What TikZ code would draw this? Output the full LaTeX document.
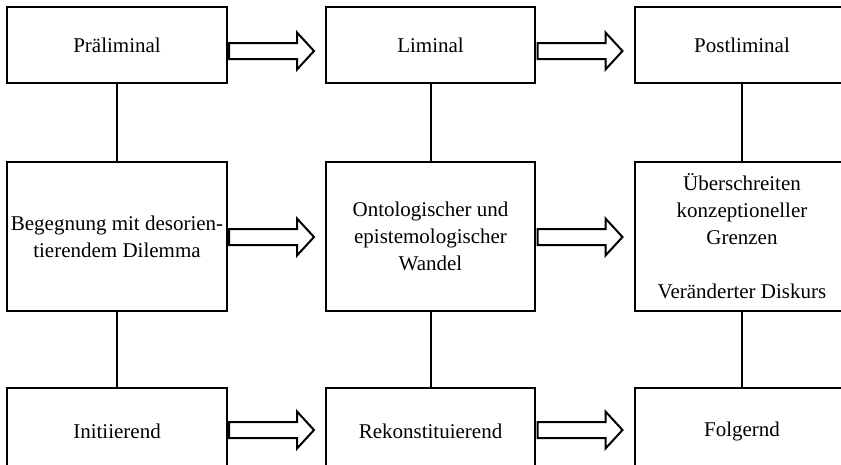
\documentclass[tikz,border=0pt]{standalone}
\usepackage{fontspec}
\setmainfont{Liberation Serif}
\usetikzlibrary{calc}
\begin{document}
\begin{tikzpicture}[x=1pt,y=-1pt,
  box/.style={draw=black,line width=2pt,fill=white,inner sep=0pt,align=center,
    font=\fontsize{21}{27}\selectfont},
  link/.style={draw=black,line width=2pt},
  arrowshape/.style={draw=black,line width=2pt,fill=white,line join=miter},
  blockarrow/.pic={\path[arrowshape] (0,-8) -- (68,-8) -- (68,-18.5) -- (85,0) -- (68,18.5) -- (68,8) -- (0,8) -- cycle;}]
\useasboundingbox (0,0) rectangle (841,464);
\begin{scope}
\clip (0,0) rectangle (841,464);
% row 1
\node[box,minimum width=220,minimum height=76] (pre) at (117,45) {Präliminal};
\node[box,minimum width=209,minimum height=76] (lim) at (430.5,45) {Liminal};
\node[box,minimum width=214,minimum height=76] (post) at (742,45) {Postliminal};
% row 2
\node[box,minimum width=220,minimum height=149] (beg) at (117,236.5) {Begegnung mit desorien-\\tierendem Dilemma};
\node[box,minimum width=209,minimum height=149] (ont) at (430.5,236.5) {Ontologischer und\\epistemologischer\\Wandel};
\node[box,minimum width=214,minimum height=149] (ueb) at (742,236.5) {Überschreiten\\konzeptioneller\\Grenzen\\[27pt]Veränderter Diskurs};
% row 3
\node[box,minimum width=220,minimum height=86] (ini) at (117,431) {Initiierend};
\node[box,minimum width=209,minimum height=86] (rek) at (430.5,431) {Rekonstituierend};
\node[box,minimum width=214,minimum height=86] (fol) at (742,431) {Folgernd};
% vertical connectors
\draw[link] (pre.south) -- (beg.north);
\draw[link] (beg.south) -- (ini.north);
\draw[link] (lim.south) -- (ont.north);
\draw[link] (ont.south) -- (rek.north);
\draw[link] (post.south) -- (ueb.north);
\draw[link] (ueb.south) -- (fol.north);
% block arrows
\pic at ($(pre.east)+(1,6)$) {blockarrow};
\pic at ($(lim.east)+(1.5,6)$) {blockarrow};
\pic at ($(beg.east)+(1,0.5)$) {blockarrow};
\pic at ($(ont.east)+(1.5,0.5)$) {blockarrow};
\pic at ($(ini.east)+(1,-1)$) {blockarrow};
\pic at ($(rek.east)+(1.5,-1)$) {blockarrow};
\end{scope}
\end{tikzpicture}
\end{document}
